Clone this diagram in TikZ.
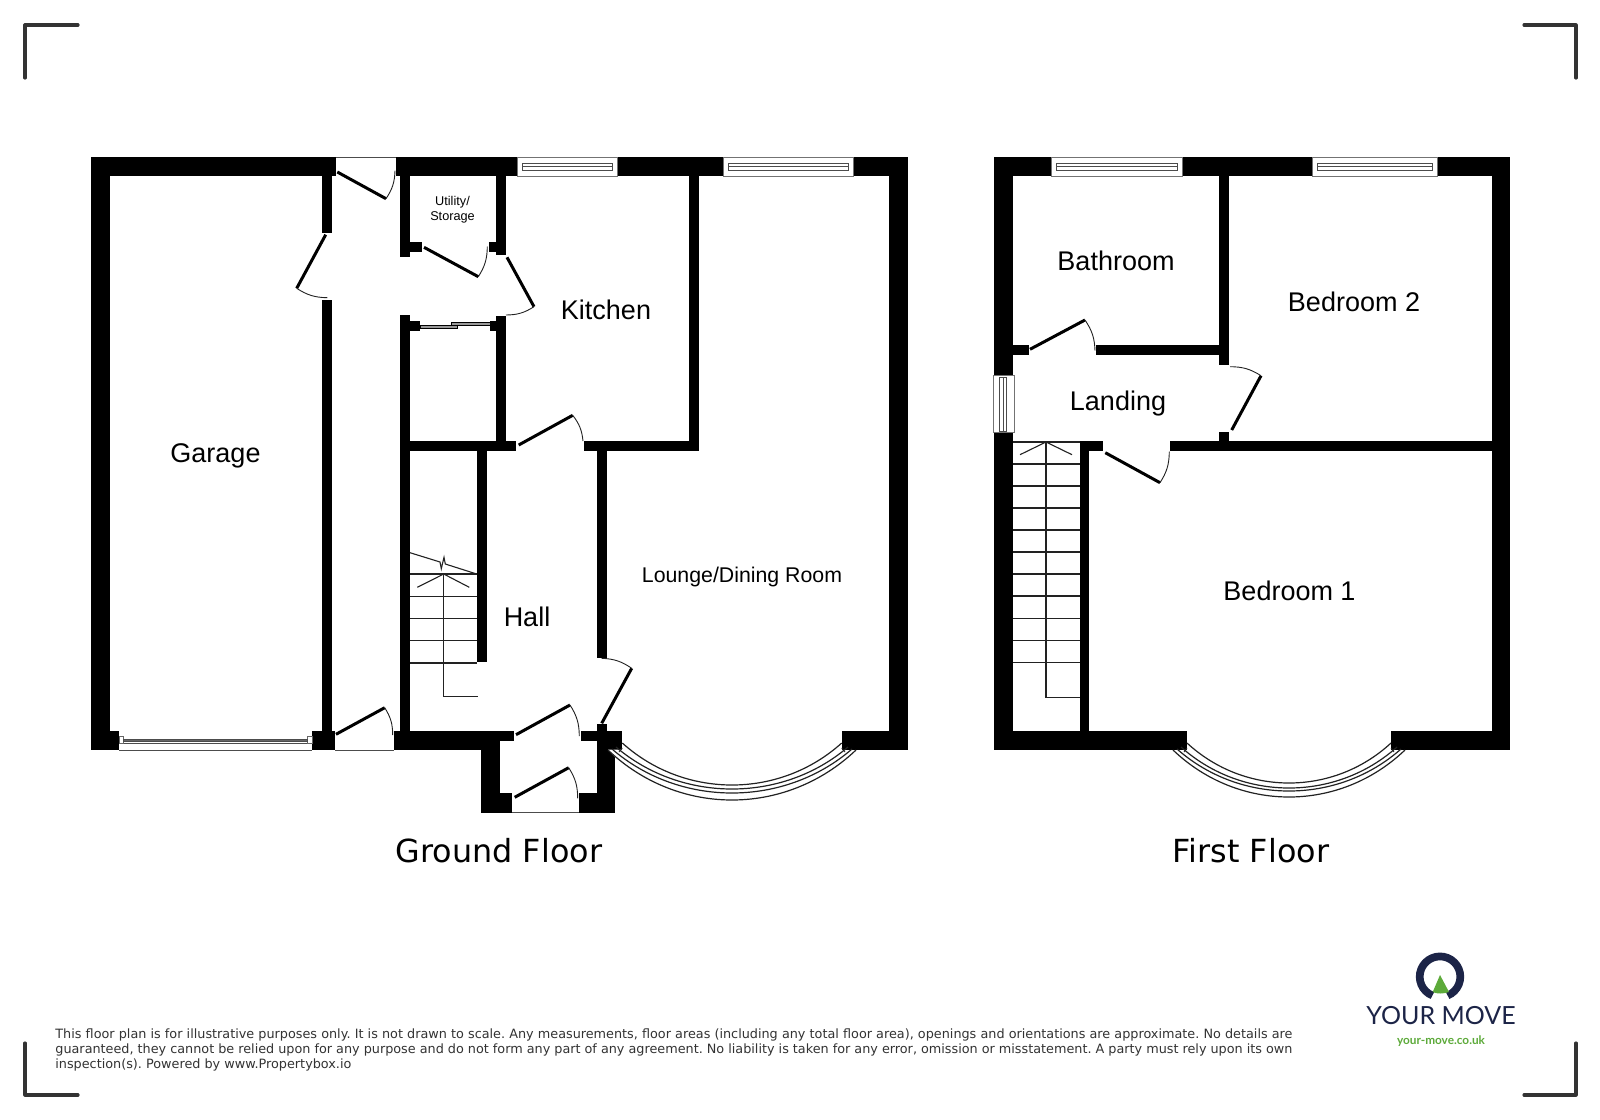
\documentclass[tikz,border=0pt]{standalone}
\usepackage{fontspec}
\setmainfont{Liberation Sans}
\newfontfamily\floorfont{DejaVu Sans}
\newfontfamily\logofont{Lato}
\definecolor{wallc}{HTML}{000000}
\definecolor{linec}{HTML}{222222}
\definecolor{bracketc}{HTML}{333333}
\definecolor{navy}{HTML}{1C2447}
\definecolor{leafgreen}{HTML}{5DAA3A}
\tikzset{
  leaf/.style={line width=1.5pt,black},
  swing/.style={line width=0.45pt,linec},
  stairline/.style={line width=0.55pt,linec},
  bayline/.style={line width=0.6pt,linec},
  winline/.style={line width=0.45pt,draw=black!55,fill=white},
  bracket/.style={line width=1.6pt,bracketc,line cap=round,line join=round},
  room/.style={font=\fontsize{13.5pt}{15pt}\selectfont,inner sep=0pt},
  floorlabel/.style={font=\floorfont\fontsize{15.9pt}{18pt}\selectfont,inner sep=0pt},
  disc/.style={font=\floorfont\frenchspacing\fontsize{6.4pt}{7pt}\selectfont,text=black!80,inner sep=0pt,anchor=base west}
}
\newcommand\wall[4]{\fill[wallc] (#1,#2) rectangle (#3,#4);}
\newcommand\door[4]{\draw[leaf] (#1) -- (#2); \draw[swing] (#2) to[bend #4=16] (#3);}
\newcommand\hwin[2]{%
  \filldraw[winline] (#1,157) rectangle (#2,176);
  \pgfmathsetmacro\wa{#1+5}\pgfmathsetmacro\wb{#2-5}
  \filldraw[winline,draw=black!70] (\wa,163) rectangle (\wb,170);
  \draw[line width=0.4pt,black!70] (\wa,166.5) -- (\wb,166.5);}
\newcommand\bayc[4]{%
  \pgfmathsetmacro\ca{0.283*(#2-#1)}\pgfmathsetmacro\cb{4/3*(#4-#3)}
  \draw[bayline] (#1,#3) .. controls (#1+\ca,#3+\cb) and (#2-\ca,#3+\cb) .. (#2,#3);}
\begin{document}
\begin{tikzpicture}[x=0.5pt,y=-0.5pt]
\useasboundingbox (0,0) rectangle (1600,1119);
\fill[white] (0,0) rectangle (1600,1119);

% corner brackets
\draw[bracket] (78,25) -- (25,25) -- (25,78);
\draw[bracket] (1524,25) -- (1576,25) -- (1576,78);
\draw[bracket] (25,1043) -- (25,1095) -- (78,1095);
\draw[bracket] (1576,1043) -- (1576,1095) -- (1524,1095);

% ===== GROUND FLOOR walls =====
\wall{91}{157}{336}{175.5}
\wall{396}{157}{517}{175.5}
\wall{617}{157}{723.5}{175.5}
\wall{853}{157}{908}{175.5}
\wall{91}{157}{109.5}{750}
\wall{889}{157}{908}{750}
\wall{91}{730.5}{119}{750}
\wall{312}{730.5}{335}{750}
\wall{394}{730.5}{500}{749.5}
\wall{500}{730.5}{514}{741}
\wall{322}{175}{332}{232.5}
\wall{322}{299.5}{332}{731}
\wall{400}{175}{410}{256.5}
\wall{400}{241.7}{422.3}{251.7}
\wall{400}{315}{410}{731}
\wall{400}{321}{420}{331}
\wall{496}{175}{506}{255}
\wall{489}{241.7}{506}{251.7}
\wall{496}{316}{506}{451}
\wall{490}{321}{506}{331}
\wall{400}{441}{516}{451}
\wall{584}{441}{699}{451}
\wall{689}{175}{699}{451}
\wall{597}{441}{606.5}{657.5}
\wall{477.3}{451}{486.7}{661.7}
% porch
\wall{481}{731}{500}{812.5}
\wall{481}{793.3}{512.3}{812.5}
\wall{579.3}{793.3}{615}{812.5}
\wall{597}{731}{615}{812.5}
\wall{581}{730.7}{622.3}{741}
\wall{597}{730.7}{622.3}{749.5}
\wall{597}{724.3}{606.5}{731}
\wall{842}{730.5}{908}{750}
% door thresholds
\draw[line width=0.5pt,black!70] (336,157) -- (396,157);
\draw[line width=0.5pt,black!70] (335,750) -- (394,750);
\draw[line width=0.5pt,black!70] (512,812.3) -- (579.3,812.3);
% ground windows
\hwin{517.3}{617}
\hwin{723.5}{853}
% garage door/window
\draw[line width=0.5pt,black!70] (119,750) -- (312,750);
\filldraw[line width=0.5pt,draw=black!60,fill=white] (119,736.7) rectangle (123.5,743.5);
\filldraw[line width=0.5pt,draw=black!60,fill=white] (307.3,736.7) rectangle (312,743.5);
\filldraw[line width=0.5pt,draw=black!70,fill=black!60] (123.5,739.3) rectangle (307.3,741.2);
\draw[line width=0.5pt,black!70] (123.5,743.8) -- (307.3,743.8);

% sliding doors
\filldraw[line width=0.4pt,draw=black,fill=black!40] (420,325.7) rectangle (457.3,328.3);
\filldraw[line width=0.4pt,draw=black,fill=black!40] (451.7,322.3) rectangle (490,325);

% ground doors
\door{337.3,172}{386,198.7}{395,170.7}{right}
\door{325.7,234.7}{296.7,288.3}{327.3,297.7}{right}
\door{424,247.3}{478.3,276.7}{487.3,246.7}{right}
\door{507,257.3}{534,306.7}{506,315}{left}
\door{518.7,445}{572.7,415.3}{583,441}{left}
\door{516,734.7}{570,705}{579.3,736}{left}
\door{514.7,797.3}{568.7,767.7}{577.7,798.3}{left}
\door{601.7,723.3}{631.7,668.3}{601.7,658.3}{right}
\door{336,734.3}{384.7,707.7}{392.7,735}{left}

% ground stairs
\foreach \yy in {574,596.7,618.7,640.7,663}{\draw[stairline] (410,\yy) -- (477.3,\yy);}
\draw[stairline] (443.7,574) -- (443.7,696.7) -- (478,696.7);
\draw[stairline] (417.3,587.3) -- (443.7,574) -- (469.3,587.3);
\draw[stairline] (410,552.7) -- (440,562) -- (441.3,568.7) -- (444,557.3) -- (445.3,564) -- (476.7,574);

% ground bay
\fill[white] (608,749.7) -- (622.3,749.7) -- (622.3,762) -- (617,759) -- cycle;
\bayc{622.3}{841.7}{743}{785}
\bayc{616}{848}{747}{789}
\bayc{612}{852}{749}{793}
\bayc{608}{856}{750}{800}
\draw[line width=0.4pt,linec] (622.3,748) -- (619,752);
\draw[line width=0.4pt,linec] (841.7,748) -- (845,752);

% ===== FIRST FLOOR walls =====
\wall{993.5}{157}{1051.7}{175.5}
\wall{1182.3}{157}{1312.3}{175.5}
\wall{1437.7}{157}{1510}{175.5}
\wall{993.5}{157}{1012.7}{375}
\wall{993.5}{432.3}{1012.7}{750}
\wall{1491.5}{157}{1510}{750}
\wall{993.5}{731}{1187}{750}
\wall{1391}{731}{1510}{750}
\wall{1219.3}{175}{1229.3}{365}
\wall{1012.7}{345}{1029}{355}
\wall{1095.7}{345}{1229.3}{355}
\wall{1080}{441}{1103.3}{451}
\wall{1080}{441}{1089.3}{731}
\wall{1170}{441}{1492}{451}
\wall{1219.3}{431.7}{1229.3}{441}
% first floor windows
\hwin{1051.7}{1182.3}
\hwin{1312.3}{1437.7}
\filldraw[winline] (993.5,375) rectangle (1014,432.3);
\filldraw[winline,draw=black!70] (999.3,377) rectangle (1006.7,431);
\draw[line width=0.4pt,black!70] (1003,377) -- (1003,431);

% first floor doors
\door{1030,349.3}{1085,320}{1095,350.7}{left}
\door{1231.7,430}{1261,375.7}{1230,366.7}{right}
\door{1105.3,452.7}{1160,482.7}{1169.3,451.7}{right}

% first floor stairs
\foreach \yy in {442,464,486,508,530,552,574,596,618.7,640.7,662.7}{\draw[stairline] (1012.7,\yy) -- (1080,\yy);}
\draw[stairline] (1046,442) -- (1046,697.3) -- (1080,697.3);
\draw[stairline] (1020,454.7) -- (1046,442) -- (1072,454.7);

% first floor bay
\bayc{1187}{1391}{743}{783}
\bayc{1181}{1397}{747}{788}
\bayc{1177}{1401}{749}{791}
\bayc{1173}{1405}{750}{797}
\draw[line width=0.4pt,linec] (1187,748) -- (1184,752);
\draw[line width=0.4pt,linec] (1391,748) -- (1394,752);

% room labels
\node[room] (garage) at (215.5,456) {Garage};
\node[room] (kitchen) at (606,310) {Kitchen};
\node[inner sep=0pt,align=center,font=\fontsize{6.35pt}{7.6pt}\selectfont] (utility) at (452.5,210) {Utility/\\Storage};
\node[room] (hall) at (527,617) {Hall};
\node[inner sep=0pt,font=\fontsize{10.65pt}{12pt}\selectfont] (lounge) at (742,576.5) {Lounge/Dining Room};
\node[room] (bathroom) at (1116,261) {Bathroom};
\node[room] (bed2) at (1354,301.5) {Bedroom 2};
\node[room] (landing) at (1118,403.5) {Landing};
\node[room] (bed1) at (1289.5,591) {Bedroom 1};
\node[floorlabel] (gf) at (499,851) {Ground Floor};
\node[floorlabel] (ff) at (1251,851) {First Floor};

% disclaimer
\node[disc] (d1) at (55,1038) {\makebox[618.5pt][s]{This floor plan is for illustrative purposes only. It is not drawn to scale. Any measurements, floor areas (including any total floor area), openings and orientations are approximate. No details are}};
\node[disc] (d2) at (55,1053.4) {\makebox[618.5pt][s]{guaranteed, they cannot be relied upon for any purpose and do not form any part of any agreement. No liability is taken for any error, omission or misstatement. A party must rely upon its own}};
\node[disc] (d3) at (55,1068.8) {inspection(s). Powered by www.Propertybox.io};

% logo
\draw[navy,line width=3.85pt] (1440,976.7) ++(112:20.3) arc[start angle=112,end angle=428,radius=20.3];
\path[fill=leafgreen] (1440,975) -- (1449,992) .. controls (1444,994) and (1436,994) .. (1432.7,992) -- cycle;
\node[inner sep=0pt,text=navy,font=\logofont\fontsize{12.5pt}{15pt}\selectfont] (logo) at (1441,1016) {YOUR MOVE};
\node[inner sep=0pt,text=leafgreen,font=\logofont\bfseries\fontsize{5.9pt}{7pt}\selectfont] (url) at (1441,1041) {your-move.co.uk};
\end{tikzpicture}
\end{document}
